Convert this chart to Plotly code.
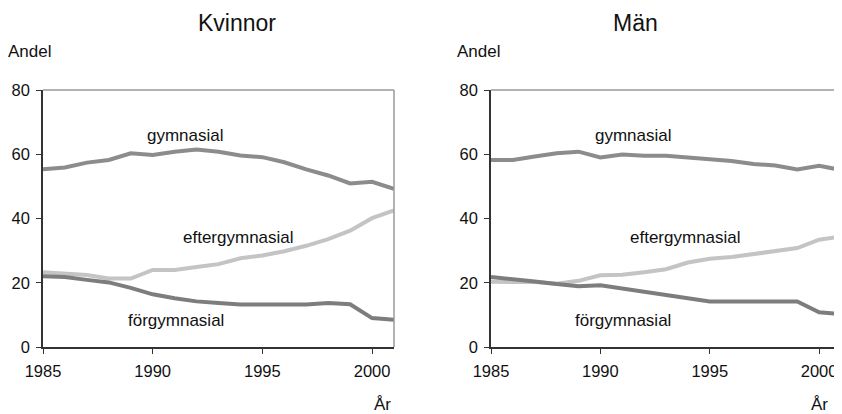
import plotly.graph_objects as go

years = list(range(1985, 2002))

kv_gymnasial = [55.3, 55.9, 57.4, 58.2, 60.3, 59.8, 60.8, 61.5, 60.8, 59.6, 59.1, 57.5, 55.3, 53.4, 50.9, 51.4, 49.2]
kv_efter = [23.3, 22.8, 22.4, 21.3, 21.3, 24.0, 24.0, 24.9, 25.8, 27.6, 28.5, 29.8, 31.5, 33.6, 36.2, 40.1, 42.5]
kv_forgym = [22.0, 21.8, 20.9, 20.1, 18.4, 16.4, 15.2, 14.2, 13.7, 13.2, 13.2, 13.2, 13.2, 13.7, 13.3, 9.0, 8.5]

man_gymnasial = [58.2, 58.2, 59.3, 60.3, 60.8, 59.0, 59.9, 59.5, 59.5, 59.0, 58.4, 57.9, 57.0, 56.5, 55.3, 56.4, 55.1]
man_efter = [20.3, 20.3, 20.2, 19.7, 20.6, 22.3, 22.5, 23.3, 24.2, 26.3, 27.5, 28.0, 28.9, 29.7, 30.8, 33.4, 34.4]
man_forgym = [21.8, 21.2, 20.4, 19.6, 18.9, 19.2, 18.2, 17.2, 16.2, 15.1, 14.2, 14.2, 14.2, 14.2, 14.2, 10.8, 10.2]

y_ticks = [0, 20, 40, 60, 80]
x_ticks = [1985, 1990, 1995, 2000]
titles = ["Kvinnor", "Män"]
series_names = ["gymnasial", "eftergymnasial", "förgymnasial"]

colors = {"gymnasial": "#8c8c8c", "eftergymnasial": "#c4c4c4", "förgymnasial": "#7d7d7d"}
FONT = "Liberation Sans, Arial, sans-serif"

# page body has an 8px margin; figure is sized so it fits the 842x414 window
OFF = 8
W, H = 842 - OFF, 414 - OFF


def px(x):
    return (x - OFF) / W


def py(y):
    return 1 - (y - OFF) / H


fig = go.Figure()

panels = [
    ("x", "y", [px(43), px(394)], {"gymnasial": kv_gymnasial, "eftergymnasial": kv_efter, "förgymnasial": kv_forgym}),
    ("x2", "y2", [px(491), px(841)], {"gymnasial": man_gymnasial, "eftergymnasial": man_efter, "förgymnasial": man_forgym}),
]

label_pos = {"gymnasial": (1991.5, 65.7), "eftergymnasial": (1993.9, 34.0), "förgymnasial": (1991.05, 8.4)}

yd = [py(347), py(90)]
for i, (xa, ya, dom, data) in enumerate(panels):
    for name in ["eftergymnasial", "förgymnasial", "gymnasial"]:
        fig.add_trace(go.Scatter(x=years, y=data[name], mode="lines", xaxis=xa, yaxis=ya,
                                 line=dict(color=colors[name], width=4), name=name, showlegend=False,
                                 hoverinfo="skip"))
    sfx = "" if i == 0 else "2"
    fig.update_layout(**{
        "xaxis" + sfx: dict(domain=dom, range=[1985, 2001], tickvals=x_ticks, showline=True, linecolor="#333333",
                             linewidth=1.5, ticks="outside", ticklen=5, tickcolor="#333333", showgrid=False,
                             zeroline=False, anchor="y" + sfx, automargin=False, ticklabelstandoff=3,
                             tickfont=dict(size=16.5, color="#111111", family=FONT)),
        "yaxis" + sfx: dict(domain=yd, range=[0, 80], tickvals=y_ticks, showline=True, linecolor="#333333",
                             linewidth=1.5, ticks="outside", ticklen=5, tickcolor="#333333", showgrid=False,
                             zeroline=False, anchor="x" + sfx, automargin=False, ticklabelstandoff=3,
                             tickfont=dict(size=16.5, color="#111111", family=FONT)),
    })
    # top and right gray border
    fig.add_shape(type="line", xref=xa + " domain", yref=ya + " domain", x0=0, x1=1, y0=1, y1=1,
                  line=dict(color="#9a9a9a", width=1.5))
    fig.add_shape(type="line", xref=xa + " domain", yref=ya + " domain", x0=1, x1=1, y0=0, y1=1,
                  line=dict(color="#9a9a9a", width=1.5))
    for name in series_names:
        lx, ly = label_pos[name]
        fig.add_annotation(x=lx, y=ly, xref=xa, yref=ya, text=name, showarrow=False,
                           font=dict(size=17, color="#111111", family=FONT))
    fig.add_annotation(x=px([197, 659][i]), y=py(23), xref="paper", yref="paper", text=titles[i],
                       showarrow=False, font=dict(size=23, color="#111111", family=FONT), yanchor="middle",
                       borderpad=0)
    fig.add_annotation(x=px([6, 455][i]), y=py(51), xref="paper", yref="paper", text="Andel",
                       showarrow=False, xanchor="left", yanchor="middle",
                       font=dict(size=17, color="#111111", family=FONT))
    fig.add_annotation(x=px([382, 830][i]), y=py(404), xref="paper", yref="paper", text="År",
                       showarrow=False, yanchor="middle", font=dict(size=17, color="#111111", family=FONT))

fig.update_layout(width=W, height=H, margin=dict(l=0, r=0, t=0, b=0),
                  paper_bgcolor="white", plot_bgcolor="white", font=dict(family=FONT))

fig.write_html("out.html")
